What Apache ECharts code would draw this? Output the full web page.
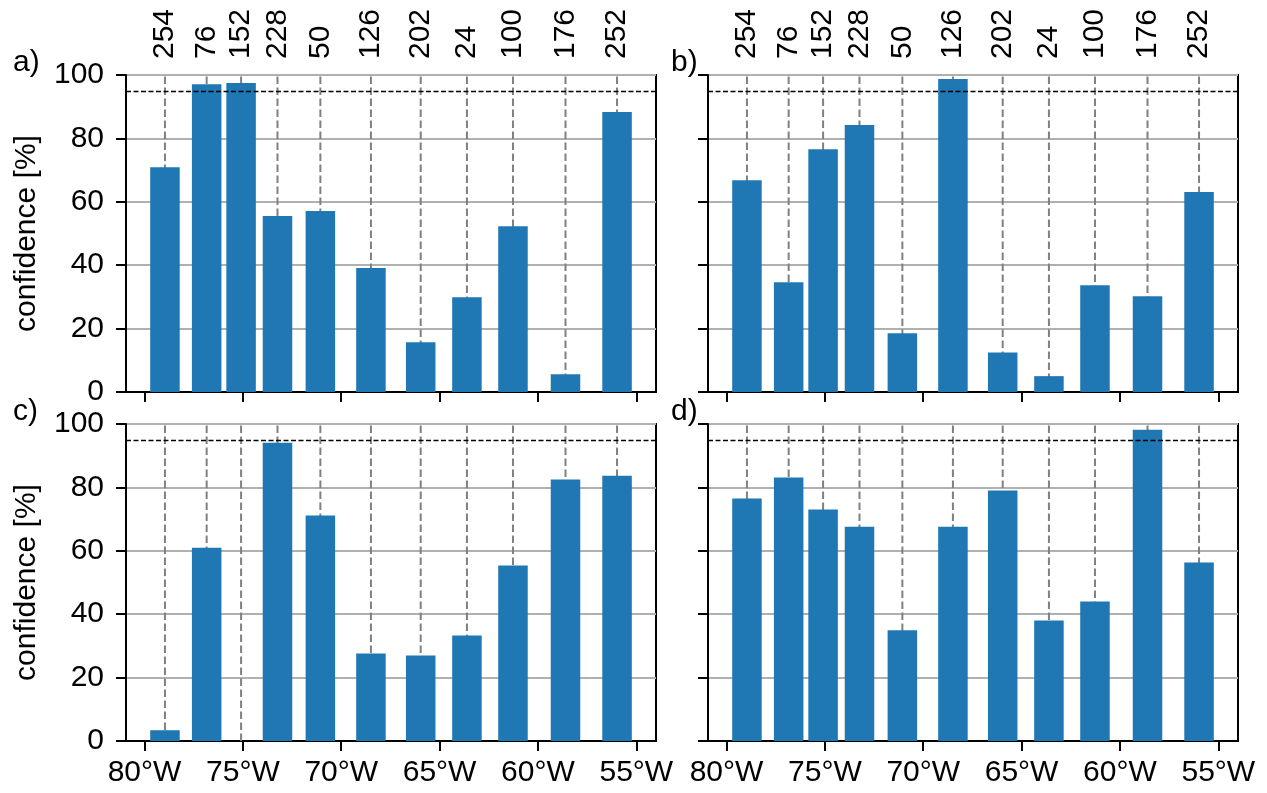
<!DOCTYPE html>
<html>
<head>
<meta charset="utf-8">
<script src="https://cdn.jsdelivr.net/npm/echarts@6/dist/echarts.min.js"></script>
<style>
  html, body { margin: 0; padding: 0; background: #fff; }
  #chart { width: 1267px; height: 793px; }
</style>
</head>
<body>
<div id="chart"></div>
<script>
// Altimeter ground tracks, ordered west to east
const tracks = ['254', '76', '152', '228', '50', '126', '202', '24', '100', '176', '252'];
const trackLon = [-78.96, -76.84, -75.09, -73.24, -71.06, -68.49, -65.96, -63.61, -61.27, -58.60, -55.98];

// Confidence [%] per track for each panel
const confA = [70.9, 97.1, 97.5, 55.5, 57.1, 39.1, 15.7, 29.9, 52.3, 5.6, 88.3];
const confB = [66.8, 34.6, 76.6, 84.2, 18.5, 98.7, 12.5, 5.0, 33.7, 30.2, 63.1];
const confC = [3.4, 61.0, 0.0, 94.1, 71.1, 27.6, 27.0, 33.3, 55.4, 82.5, 83.7];
const confD = [76.5, 83.1, 73.0, 67.6, 34.9, 67.6, 79.0, 38.0, 44.0, 98.2, 56.3];

const lonTicks = [-80, -75, -70, -65, -60, -55];
const confTicks = [0, 20, 40, 60, 80, 100];
const threshold = 95;
const panelLabels = ['a)', 'b)', 'c)', 'd)'];

const FONT = '"Liberation Sans", Arial, Helvetica, sans-serif';
const FS = 30;
const BAR_COLOR = '#1f77b4';
const BAR_HALF = 0.75;           // half bar width in degrees longitude
const LON_MIN = -80.94, LON_MAX = -54.0;

const panels = [
  { data: confA, left: 126, top: 75,  showYLabels: true,  showXLabels: false, showTracks: true },
  { data: confB, left: 708, top: 75,  showYLabels: false, showXLabels: false, showTracks: true },
  { data: confC, left: 126, top: 424, showYLabels: true,  showXLabels: true,  showTracks: false },
  { data: confD, left: 708, top: 424, showYLabels: false, showXLabels: true,  showTracks: false }
];
const PW = 530, PH = 317;

const axisLineStyle = { color: '#000', width: 2 };
const tickStyle = { color: '#000', width: 2 };

const option = {
  animation: false,
  backgroundColor: '#fff',
  textStyle: { fontFamily: FONT },
  grid: [],
  xAxis: [],
  yAxis: [],
  series: [],
  graphic: []
};

panels.forEach((p, i) => {
  option.grid.push({
    left: p.left, top: p.top, width: PW, height: PH,
    show: true, borderColor: '#000', borderWidth: 2,
    backgroundColor: 'transparent'
  });

  // longitude axis (bottom)
  option.xAxis.push({
    type: 'value', gridIndex: i, position: 'bottom',
    min: LON_MIN, max: LON_MAX,
    axisLine: { show: true, onZero: false, lineStyle: axisLineStyle },
    axisTick: { show: true, length: 10, lineStyle: tickStyle, customValues: lonTicks },
    axisLabel: {
      show: p.showXLabels, customValues: lonTicks, margin: 17,
      fontSize: FS, color: '#000', fontFamily: FONT,
      formatter: v => Math.abs(Math.round(v)) + '°W'
    },
    splitLine: { show: false }
  });

  // track numbers (top)
  option.xAxis.push({
    type: 'value', gridIndex: i, position: 'top',
    min: LON_MIN, max: LON_MAX,
    axisLine: { show: false },
    axisTick: { show: false },
    axisLabel: {
      show: p.showTracks, customValues: trackLon, rotate: 90, margin: 16,
      hideOverlap: false,
      fontSize: FS, color: '#000', fontFamily: FONT,
      formatter: v => {
        let best = 0;
        trackLon.forEach((l, k) => { if (Math.abs(l - v) < Math.abs(trackLon[best] - v)) best = k; });
        return tracks[best];
      }
    },
    splitLine: { show: false }
  });

  option.yAxis.push({
    type: 'value', gridIndex: i,
    min: confTicks[0], max: confTicks[confTicks.length - 1], interval: 20,
    name: p.showYLabels ? 'confidence [%]' : '',
    nameLocation: 'middle', nameGap: 84,
    nameTextStyle: { fontSize: FS, color: '#000', fontFamily: FONT },
    axisLine: { show: true, lineStyle: axisLineStyle },
    axisTick: { show: true, length: 10, lineStyle: tickStyle },
    axisLabel: { show: p.showYLabels, margin: 22, fontSize: FS, color: '#000', fontFamily: FONT },
    splitLine: { show: true, lineStyle: { color: '#b0b0b0', width: 2 } }
  });

  // dashed guides at each track
  option.series.push({
    type: 'custom',
    xAxisIndex: 2 * i, yAxisIndex: i,
    z: 1, silent: true,
    data: trackLon.map(l => [l]),
    encode: { x: 0 },
    renderItem: (params, api) => {
      const lon = api.value(0);
      const p0 = api.coord([lon, confTicks[0]]);
      const p1 = api.coord([lon, confTicks[confTicks.length - 1]]);
      return {
        type: 'line',
        shape: { x1: p0[0], y1: p0[1], x2: p1[0], y2: p1[1] },
        style: { stroke: '#808080', lineWidth: 2, lineDash: [7.5, 3.5] }
      };
    }
  });

  // confidence bars
  option.series.push({
    type: 'custom',
    xAxisIndex: 2 * i, yAxisIndex: i,
    z: 2, silent: true,
    data: trackLon.map((l, k) => [l, p.data[k]]),
    encode: { x: 0, y: 1 },
    renderItem: (params, api) => {
      const lon = api.value(0), val = api.value(1);
      const tl = api.coord([lon - BAR_HALF, val]);
      const br = api.coord([lon + BAR_HALF, 0]);
      return {
        type: 'rect',
        shape: { x: tl[0], y: tl[1], width: br[0] - tl[0], height: br[1] - tl[1] },
        style: { fill: BAR_COLOR }
      };
    },
    markLine: {
      silent: true, symbol: 'none', z: 5,
      label: { show: false },
      lineStyle: { color: '#000', width: 1.4, type: [5, 2.5] },
      data: [{ yAxis: threshold }]
    }
  });

  option.graphic.push({
    type: 'text',
    left: p.left - (p.showYLabels ? 113 : 37),
    top: p.top - 27,
    style: { text: panelLabels[i], fontSize: FS, fill: '#000', fontFamily: FONT }
  });
});

const chart = echarts.init(document.getElementById('chart'), null, { renderer: 'canvas' });
chart.setOption(option);
</script>
</body>
</html>
